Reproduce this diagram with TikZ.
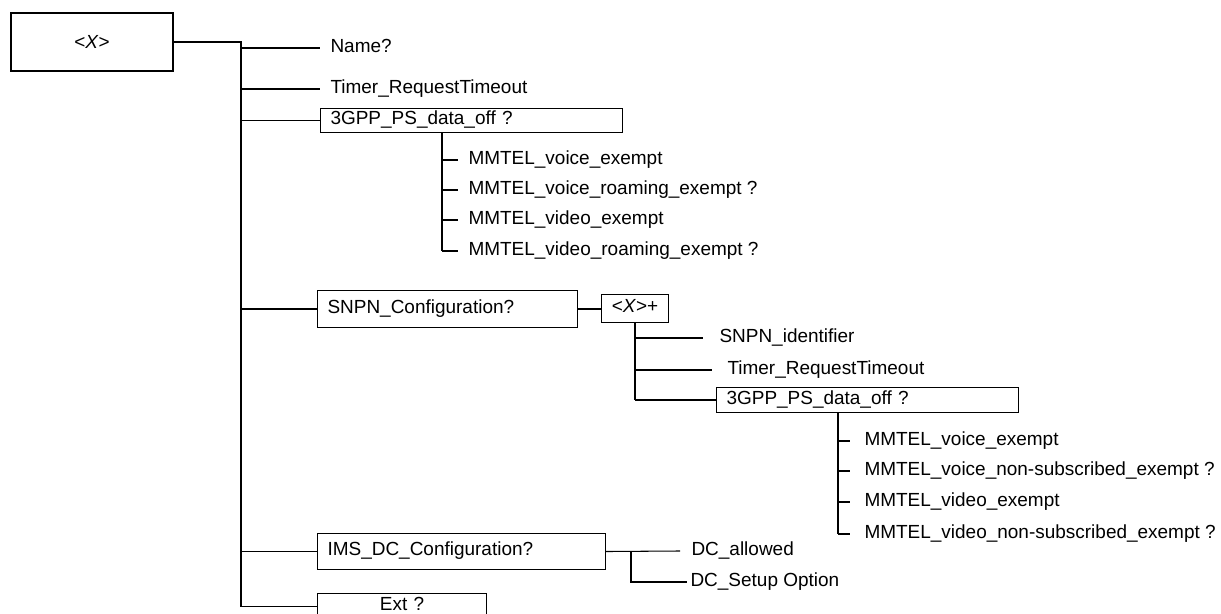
\documentclass[tikz,border=0pt]{standalone}
\usepackage{fontspec}
\setmainfont{Liberation Sans}

\begin{document}
\begin{tikzpicture}[x=0.02cm,y=-0.02cm,line width=0.6pt,
  font=\fontsize{10.8}{13}\selectfont,
  box/.style={draw,anchor=north west,inner xsep=0.2cm,inner ysep=0pt,
    text height=6.6pt,text depth=2pt,align=left},
  leaf/.style={anchor=west,inner xsep=0.2cm,inner ysep=0pt,
    text height=6.6pt,text depth=2pt}]
  \clip (0,0) rectangle (1221,614);
  % top element
  \node[draw,minimum width=3.24cm,minimum height=1.16cm] (root) at (92,42)
    {\textless\textit{X}\textgreater};
  \coordinate (trunk) at (241,0);
  \node[leaf] (name) at (320,48) {Name?};
  \node[leaf] (timer) at (320,89) {Timer\_RequestTimeout};
  \node[box,text width=5.64cm,minimum height=0.48cm] (ps) at (320,108) {3GPP\_PS\_data\_off ?};
  \node[box,text width=4.8cm,minimum height=0.74cm] (snpn) at (317,290) {SNPN\_Configuration?};
  \node[box,text width=5.36cm,minimum height=0.72cm] (ims) at (317,533) {IMS\_DC\_Configuration?};
  \node[box,align=center,text width=2.98cm,minimum height=0.52cm] (ext) at (317,593) {Ext ?};
  \draw (root.east) -- (root.east -| trunk) -- (trunk |- ext.west);
  \foreach \n in {name,timer,ps,snpn,ims,ext}
    \draw (trunk |- \n.west) -- (\n.west);
  % 3GPP_PS_data_off
  \coordinate (v1) at (442,0);
  \foreach \i/\y/\t in {1/160/MMTEL\_voice\_exempt,
      2/190/MMTEL\_voice\_roaming\_exempt ?,
      3/220/MMTEL\_video\_exempt,
      4/251/MMTEL\_video\_roaming\_exempt ?} {
    \node[leaf] (a\i) at (458,\y) {\t};
    \draw (v1 |- a\i.west) -- (a\i.west);
  }
  \draw (v1 |- ps.south) -- (v1 |- a4.west);
  % SNPN_Configuration
  \node[box,align=center,text width=0.94cm,minimum height=0.56cm] (xp) at (601,294)
    {\textless\textit{X}\textgreater+};
  \draw (snpn.east) -- (snpn.east -| xp.west);
  \coordinate (v2) at (635,0);
  \node[leaf,inner xsep=0.32cm] (sid) at (703,338) {SNPN\_identifier};
  \node[leaf,inner xsep=0.3cm] (timer2) at (712,370) {Timer\_RequestTimeout};
  \node[box,text width=5.64cm,minimum height=0.5cm] (ps2) at (716,387) {3GPP\_PS\_data\_off ?};
  \draw (v2 |- xp.south) -- (v2 |- ps2.west);
  \foreach \n in {sid,timer2,ps2}
    \draw (v2 |- \n.west) -- (\n.west);
  \coordinate (v3) at (838,0);
  \foreach \i/\y/\t in {1/441/MMTEL\_voice\_exempt,
      2/471/MMTEL\_voice\_non-subscribed\_exempt ?,
      3/502/MMTEL\_video\_exempt,
      4/534/MMTEL\_video\_non-subscribed\_exempt ?} {
    \node[leaf,inner xsep=0.28cm] (b\i) at (850,\y) {\t};
    \draw (v3 |- b\i.west) -- (b\i.west);
  }
  \draw (v3 |- ps2.south) -- (v3 |- b4.west);
  % IMS_DC_Configuration
  \coordinate (v4) at (631,0);
  \node[leaf,inner xsep=0.22cm] (dca) at (680,551) {DC\_allowed};
  \node[leaf,inner xsep=0.06cm] (dcs) at (687,582) {DC\_Setup Option};
  \draw (ims.east) -- (dca.west);
  \draw (v4 |- ims.east) -- (v4 |- dcs.west) -- (dcs.west);
\end{tikzpicture}
\end{document}
